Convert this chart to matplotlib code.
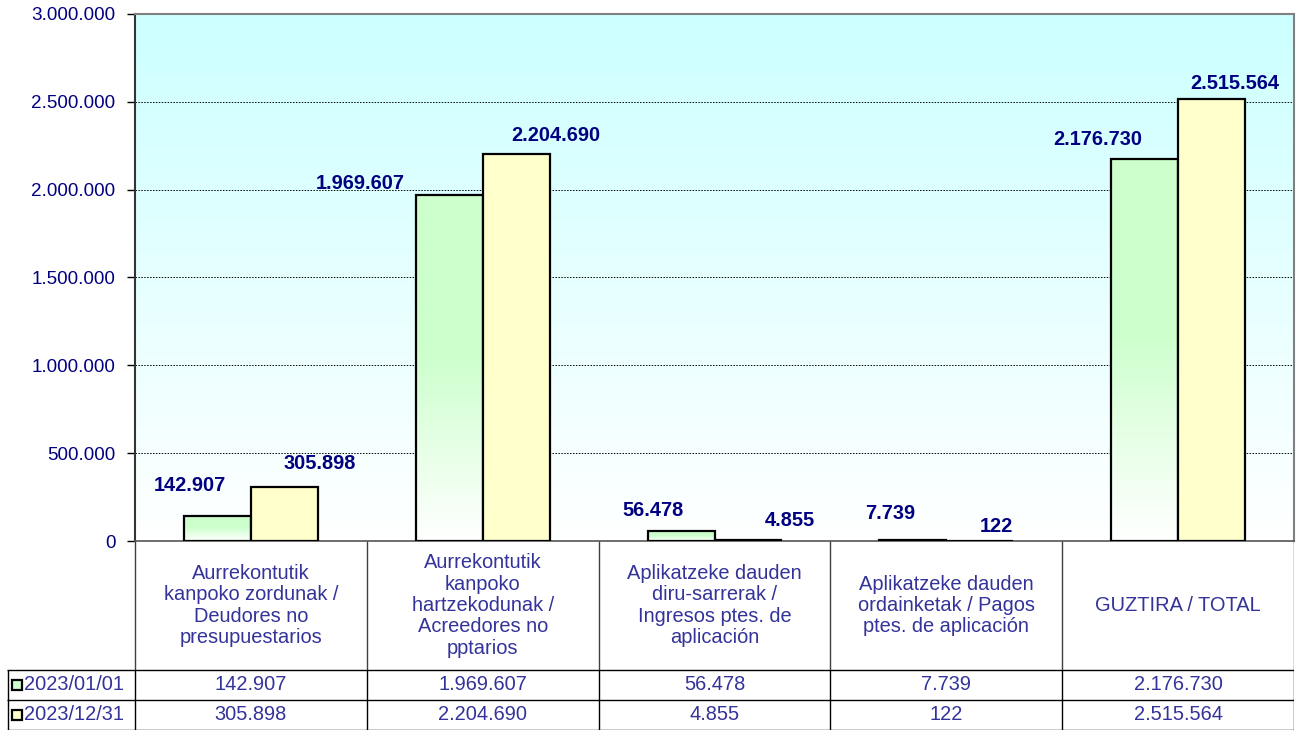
import matplotlib

matplotlib.use("Agg")

import matplotlib.pyplot as plt
import numpy as np
from matplotlib.colors import to_rgb
from matplotlib.ticker import FuncFormatter, MultipleLocator

CATEGORIES = [
    "Aurrekontutik\nkanpoko zordunak /\nDeudores no\npresupuestarios",
    "Aurrekontutik\nkanpoko\nhartzekodunak /\nAcreedores no\npptarios",
    "Aplikatzeke dauden\ndiru-sarrerak /\nIngresos ptes. de\naplicación",
    "Aplikatzeke dauden\nordainketak / Pagos\nptes. de aplicación",
    "GUZTIRA / TOTAL",
]
SERIES_NAMES = ["2023/01/01", "2023/12/31"]
VALUES_START = [142907, 1969607, 56478, 7739, 2176730]
VALUES_END = [305898, 2204690, 4855, 122, 2515564]

# hand-placed data labels, offset in pixels from the top centre of each bar
START_LABEL_OFFSETS = [(-28, 30), (-89, 12), (-28, 21), (-23, 26), (-47, 19)]
END_LABEL_OFFSETS = [(35, 24), (40, 18), (42, 20), (17, 14), (23, 16)]

W, H = 1298, 730
AX_LEFT, AX_RIGHT, AX_TOP, AX_BOTTOM = 135, 1294, 14, 541
TABLE_LEFT = 7
BAR_W = 0.289

GREEN = "#ccffcc"
YELLOW = "#ffffcc"
SKY = "#ccffff"
NAVY = "#000080"
TABLE_TXT = "#333399"
FONT = "Liberation Sans"


def fmt(v):
    return f"{int(round(v)):,}".replace(",", ".")


def vertical_gradient(color, n=256, full_at=1.0):
    c = np.array(to_rgb(color))
    t = np.linspace(0, 1, n)[:, None]  # 0 = bottom, 1 = top
    a = np.clip(t / full_at, 0, 1)
    img = (1 - a) * np.ones(3) + a * c
    return img[:, None, :]


plt.rcParams["font.family"] = [FONT, "DejaVu Sans"]

fig = plt.figure(figsize=(W / 100, H / 100), dpi=100)
ax = fig.add_axes([
    AX_LEFT / W, 1 - AX_BOTTOM / H,
    (AX_RIGHT - AX_LEFT) / W, (AX_BOTTOM - AX_TOP) / H,
])

x = np.arange(len(CATEGORIES))
xlim = (-0.5, len(CATEGORIES) - 0.5)
ylim = (0, 3_000_000)

# plot-area background, cyan fading to white
ax.imshow(vertical_gradient(SKY, full_at=1.0), extent=[*xlim, *ylim],
          origin="lower", aspect="auto", zorder=0, interpolation="bilinear")

# green bars get a fade to white at the bottom
green_img = vertical_gradient(GREEN, full_at=0.55)
for xi, v in zip(x, VALUES_START):
    ax.imshow(green_img, extent=[xi - BAR_W, xi, 0, v], origin="lower",
              aspect="auto", zorder=2, interpolation="bilinear")

ax.bar(x - BAR_W / 2, VALUES_START, width=BAR_W, facecolor="none",
       edgecolor="black", linewidth=1.6, zorder=3)
ax.bar(x + BAR_W / 2, VALUES_END, width=BAR_W, facecolor=YELLOW,
       edgecolor="black", linewidth=1.6, zorder=3)

for xi, v, (dx, dy) in zip(x, VALUES_START, START_LABEL_OFFSETS):
    ax.annotate(fmt(v), (xi - BAR_W / 2, v), xytext=(dx, dy),
                textcoords="offset pixels", ha="center", va="center",
                fontsize=14.4, fontweight="bold", color=NAVY, zorder=5,
                annotation_clip=False)
for xi, v, (dx, dy) in zip(x, VALUES_END, END_LABEL_OFFSETS):
    ax.annotate(fmt(v), (xi + BAR_W / 2, v), xytext=(dx, dy),
                textcoords="offset pixels", ha="center", va="center",
                fontsize=14.4, fontweight="bold", color=NAVY, zorder=5,
                annotation_clip=False)

ax.set_xlim(*xlim)
ax.set_ylim(*ylim)
ax.yaxis.set_major_locator(MultipleLocator(500_000))
ax.yaxis.set_major_formatter(FuncFormatter(lambda v, _: fmt(v)))
ax.set_xticks([])
ax.tick_params(axis="y", length=6, width=1, color="black",
               labelsize=13.6, labelcolor=NAVY, pad=8)
ax.grid(axis="y", linestyle=(0, (1.5, 1.5)), color="black", linewidth=0.7,
        zorder=1)
ax.set_axisbelow(True)

ax.spines["top"].set_color("#808080")
ax.spines["right"].set_color("#808080")
ax.spines["top"].set_linewidth(1.5)
ax.spines["right"].set_linewidth(1.5)
ax.spines["left"].set_color("#333333")
ax.spines["left"].set_linewidth(1.5)
ax.spines["bottom"].set_color("#555555")
ax.spines["bottom"].set_linewidth(1.2)

# ---- data table under the chart ----
tab_h = H - AX_BOTTOM
cat_px = (AX_RIGHT - AX_LEFT) / len(CATEGORIES)
tab = fig.add_axes([TABLE_LEFT / W, 0, (AX_RIGHT - TABLE_LEFT) / W, tab_h / H])
x_left = xlim[0] - (AX_LEFT - TABLE_LEFT) / cat_px
tab.set_xlim(x_left, xlim[1])
tab.set_ylim(0, tab_h)
tab.axis("off")

row_h = 30
head_bot = 2 * row_h
bounds = np.arange(len(CATEGORIES) + 1) - 0.5

tab.vlines(bounds, head_bot, tab_h, color="#404040", linewidth=1)
tab.vlines(bounds, 0, head_bot, color="black", linewidth=1)
tab.vlines([x_left + 0.5 / cat_px], 0, head_bot, color="black", linewidth=1)
tab.hlines([head_bot, row_h, 0.5], x_left, xlim[1], color="black", linewidth=1)

for xi, name in zip(x, CATEGORIES):
    tab.text(xi, (head_bot + tab_h) / 2, name, ha="center", va="center",
             fontsize=14.4, color=TABLE_TXT, linespacing=1.15)

rows = [(SERIES_NAMES[0], VALUES_START, GREEN), (SERIES_NAMES[1], VALUES_END, YELLOW)]
for r, (name, vals, col) in enumerate(rows):
    yc = head_bot - row_h * (r + 0.5)
    tab.plot([x_left + 10 / cat_px], [yc], marker="s", markersize=6.5,
             markerfacecolor=col, markeredgecolor="black", markeredgewidth=1.6)
    tab.text(x_left + 17 / cat_px, yc, name, ha="left", va="center",
             fontsize=14.4, color=TABLE_TXT)
    for xi, v in zip(x, vals):
        tab.text(xi, yc, fmt(v), ha="center", va="center",
                 fontsize=14.4, color=TABLE_TXT)

fig.savefig("out.png", dpi=100)
